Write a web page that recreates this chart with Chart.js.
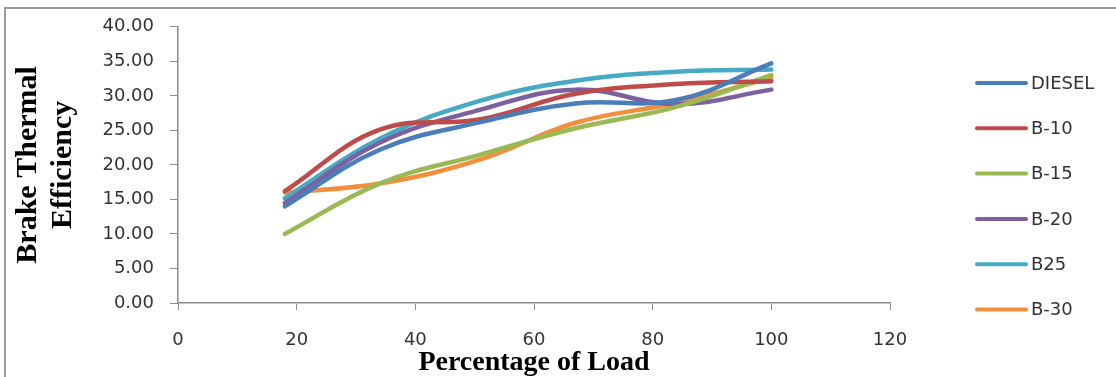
<!DOCTYPE html>
<html>
<head>
<meta charset="utf-8">
<script src="https://cdn.jsdelivr.net/npm/chart.js@4.4.1/dist/chart.umd.min.js"></script>
<style>
  html, body { margin: 0; padding: 0; background: #fff; }
  #wrap { position: relative; width: 1116px; height: 377px; overflow: hidden; }
  #frame { position: absolute; left: 4px; top: 7px; width: 1200px; height: 400px;
           border-left: 2px solid #9a9a9a; border-top: 2px solid #9a9a9a; }
  canvas { position: absolute; left: 0; top: 0; }
</style>
</head>
<body>
<div id="wrap">
  <div id="frame"></div>
  <canvas id="chart" width="1116" height="377"></canvas>
</div>
<script>
// load points (% of load) and efficiency per fuel blend
const loads = [18, 34, 51, 67, 84, 100];
const diesel = [14.0, 22.2, 26.2, 28.9, 29.4, 34.7];
const b10 = [16.2, 25.1, 26.6, 30.3, 31.7, 32.1];
const b15 = [10.0, 17.3, 21.5, 25.3, 28.4, 33.0];
const b20 = [14.5, 23.2, 28.0, 30.9, 28.8, 30.9];
const b25 = [15.2, 23.8, 29.3, 32.2, 33.5, 33.8];
const b30 = [16.0, 17.3, 20.8, 26.1, 29.0, 32.6];

const seriesNames = ['DIESEL', 'B-10', 'B-15', 'B-20', 'B25', 'B-30'];
const seriesData = [diesel, b10, b15, b20, b25, b30];
const seriesColors = ['#4a7ebb', '#be4b48', '#98b954', '#7d60a0', '#46aac5', '#f38f3c'];

const xTicks = [0, 20, 40, 60, 80, 100, 120];
const yTicks = [0, 5, 10, 15, 20, 25, 30, 35, 40];

const axisGray = '#8c8c8c';
const labelFont = { family: 'DejaVu Sans', size: 18 };

// legend drawn at fixed spots on the right, like the Excel original
const sideLegend = {
    id: 'sideLegend',
    afterDraw(chart) {
        const ctx = chart.ctx;
        ctx.save();
        ctx.font = '18px "DejaVu Sans"';
        ctx.textBaseline = 'middle';
        chart.data.datasets.forEach((ds, i) => {
            const y = 83 + i * 45.3;
            ctx.strokeStyle = ds.borderColor;
            ctx.lineWidth = 4;
            ctx.lineCap = 'round';
            ctx.beginPath();
            ctx.moveTo(977, y);
            ctx.lineTo(1026, y);
            ctx.stroke();
            ctx.fillStyle = '#333';
            ctx.fillText(ds.label, 1031, y + 1);
        });
        ctx.restore();
    }
};

const datasets = seriesNames.map((name, i) => ({
    label: name,
    data: loads.map((x, j) => ({ x: x, y: seriesData[i][j] })),
    borderColor: seriesColors[i],
    backgroundColor: seriesColors[i],
    borderWidth: 4.5,
    borderCapStyle: 'round',
    borderJoinStyle: 'round',
    pointRadius: 0,
    tension: 0.4,
    fill: false
}));

new Chart(document.getElementById('chart'), {
    type: 'line',
    data: { datasets: datasets },
    options: {
        responsive: false,
        animation: false,
        layout: { padding: { left: 0, top: 24, right: 226, bottom: 0 } },
        plugins: {
            legend: { display: false },
            tooltip: { enabled: false }
        },
        scales: {
            x: {
                type: 'linear',
                min: 0,
                max: 120,
                afterBuildTicks: (scale) => { scale.ticks = xTicks.map(v => ({ value: v })); },
                afterFit: (scale) => { scale.height = 74; },
                ticks: { color: '#333', font: labelFont, padding: 20, maxRotation: 0 },
                grid: { drawOnChartArea: false, tickLength: 7, color: axisGray },
                border: { color: axisGray, width: 1.5 },
                title: {
                    display: true,
                    text: 'Percentage of Load',
                    color: '#000',
                    font: { family: 'Liberation Serif', size: 28, weight: 'bold', lineHeight: 1.0 },
                    padding: { top: 0, bottom: 0 }
                }
            },
            y: {
                min: 0,
                max: 40,
                afterBuildTicks: (scale) => { scale.ticks = yTicks.map(v => ({ value: v })); },
                afterFit: (scale) => { scale.width = 178; },
                ticks: {
                    color: '#333',
                    font: labelFont,
                    padding: 16,
                    callback: (v) => v.toFixed(2)
                },
                grid: { drawOnChartArea: false, tickLength: 8, color: axisGray },
                border: { color: axisGray, width: 1.5 },
                title: {
                    display: true,
                    text: ['Brake Thermal', 'Efficiency'],
                    color: '#000',
                    font: { family: 'Liberation Serif', size: 30, weight: 'bold', lineHeight: 1.15 },
                    padding: { top: 11, bottom: 0 }
                }
            }
        }
    },
    plugins: [sideLegend]
});
</script>
</body>
</html>
